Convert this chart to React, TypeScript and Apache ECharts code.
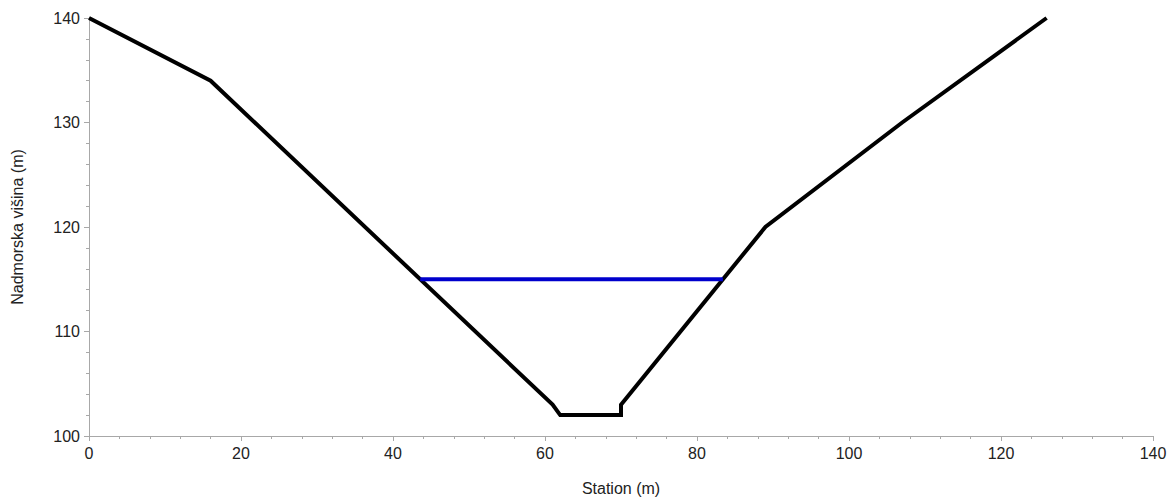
import React, { useEffect, useRef } from "react";
import * as echarts from "echarts";

const groundStation = [0, 16, 61, 62, 70, 70, 89, 107, 126];
const groundElevation = [140, 134, 103, 102, 102, 103, 120, 130, 140];
const waterStation = [43.58, 83.41];
const waterElevation = [115, 115];

export default function App() {
  const ref = useRef<HTMLDivElement>(null);
  useEffect(() => {
    document.body.style.margin = "0";
    document.body.style.overflow = "hidden";
    document.documentElement.style.overflow = "hidden";
    if (!ref.current) return;
    const chart = echarts.init(ref.current, null, { renderer: "svg" });
    const font = "'Liberation Sans', Arial, sans-serif";
    chart.setOption({
      animation: false,
      grid: {
        left: 89,
        right: 19,
        top: 18,
        bottom: 62,
        containLabel: false,
        outerBoundsMode: "none",
      },
      xAxis: {
        type: "value",
        min: 0,
        max: 140,
        interval: 20,
        name: "Station (m)",
        nameLocation: "middle",
        nameGap: 44,
        nameTextStyle: { fontFamily: font, fontSize: 16, color: "#222" },
        axisLine: { lineStyle: { color: "#a8a8a8", width: 1 } },
        axisTick: { show: true, length: 5, lineStyle: { color: "#a8a8a8" } },
        minorTick: { show: true, splitNumber: 5, length: 3, lineStyle: { color: "#a8a8a8" } },
        axisLabel: { fontFamily: font, fontSize: 16, color: "#222", margin: 9 },
        splitLine: { show: false },
      },
      yAxis: {
        type: "value",
        min: 100,
        max: 140,
        interval: 10,
        name: "Nadmorska višina (m)",
        nameLocation: "middle",
        nameGap: 64,
        nameRotate: 90,
        nameTextStyle: { fontFamily: font, fontSize: 16, color: "#222" },
        axisLine: { show: true, lineStyle: { color: "#a8a8a8", width: 1 } },
        axisTick: { show: true, length: 5, lineStyle: { color: "#a8a8a8" } },
        minorTick: { show: true, splitNumber: 5, length: 3, lineStyle: { color: "#a8a8a8" } },
        axisLabel: { fontFamily: font, fontSize: 16, color: "#222", margin: 9 },
        splitLine: { show: false },
      },
      series: [
        {
          type: "line",
          data: groundStation.map((s, i) => [s, groundElevation[i]]),
          showSymbol: false,
          symbol: "none",
          lineStyle: { color: "#000", width: 4, join: "miter" },
          z: 2,
        },
        {
          type: "line",
          data: waterStation.map((s, i) => [s, waterElevation[i]]),
          showSymbol: false,
          symbol: "none",
          lineStyle: { color: "#0000cc", width: 4 },
          z: 3,
        },
      ],
    });
    return () => chart.dispose();
  }, []);
  return (
    <div
      ref={ref}
      style={{ position: "absolute", left: 0, top: 0, width: 1172, height: 498, background: "#fff" }}
    />
  );
}
